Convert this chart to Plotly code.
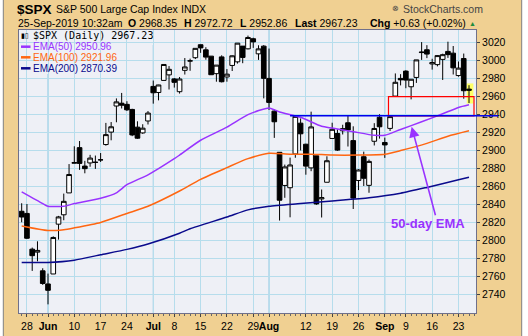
import plotly.graph_objects as go

# ---------------- data ----------------
dates = ['2019-05-24','2019-05-28','2019-05-29','2019-05-30','2019-05-31',
         '2019-06-03','2019-06-04','2019-06-05','2019-06-06','2019-06-07',
         '2019-06-10','2019-06-11','2019-06-12','2019-06-13','2019-06-14',
         '2019-06-17','2019-06-18','2019-06-19','2019-06-20','2019-06-21',
         '2019-06-24','2019-06-25','2019-06-26','2019-06-27','2019-06-28',
         '2019-07-01','2019-07-02','2019-07-03','2019-07-05',
         '2019-07-08','2019-07-09','2019-07-10','2019-07-11','2019-07-12',
         '2019-07-15','2019-07-16','2019-07-17','2019-07-18','2019-07-19',
         '2019-07-22','2019-07-23','2019-07-24','2019-07-25','2019-07-26',
         '2019-07-29','2019-07-30','2019-07-31','2019-08-01','2019-08-02',
         '2019-08-05','2019-08-06','2019-08-07','2019-08-08','2019-08-09',
         '2019-08-12','2019-08-13','2019-08-14','2019-08-15','2019-08-16',
         '2019-08-19','2019-08-20','2019-08-21','2019-08-22','2019-08-23',
         '2019-08-26','2019-08-27','2019-08-28','2019-08-29','2019-08-30',
         '2019-09-03','2019-09-04','2019-09-05','2019-09-06',
         '2019-09-09','2019-09-10','2019-09-11','2019-09-12','2019-09-13',
         '2019-09-16','2019-09-17','2019-09-18','2019-09-19','2019-09-20',
         '2019-09-23','2019-09-24','2019-09-25']

opens = [2832.41,2830.03,2790.25,2786.94,2766.15,
         2751.53,2762.64,2818.09,2828.51,2852.87,
         2885.83,2903.27,2882.73,2886.24,2886.82,
         2889.75,2906.71,2920.55,2949.60,2952.71,
         2951.42,2945.78,2926.07,2919.66,2932.94,
         2971.41,2964.66,2978.08,2984.25,
         2979.77,2965.52,2989.30,2999.62,3003.36,
         3017.80,3012.13,3005.10,2985.60,3004.26,
         2981.93,2994.74,2998.77,3016.26,3013.25,
         3024.47,3007.66,3016.22,2980.32,2943.90,
         2898.07,2861.18,2858.65,2896.21,2930.51,
         2907.07,2880.72,2894.15,2846.20,2864.74,
         2913.48,2919.01,2922.04,2930.94,2911.07,
         2866.70,2893.14,2861.28,2910.37,2937.09,
         2909.01,2924.67,2960.60,2980.33,
         2988.43,2971.01,2981.41,3009.08,3012.21,
         2996.41,2995.67,3001.50,3010.36,3008.42,
         2983.50,3002.43,2968.35]
highs = [2841.36,2840.51,2792.03,2799.00,2768.98,
         2763.07,2804.49,2827.28,2852.10,2884.97,
         2904.77,2910.61,2888.57,2895.24,2894.45,
         2897.27,2930.79,2931.74,2958.06,2964.15,
         2954.92,2946.52,2932.59,2929.30,2943.98,
         2977.93,2973.21,2995.84,2994.03,
         2980.76,2981.90,3002.98,3002.33,3013.92,
         3017.80,3015.02,3005.26,2995.11,3006.02,
         2990.71,3005.90,3019.59,3016.31,3027.98,
         3025.61,3017.19,3017.40,3013.59,2945.50,
         2898.07,2884.40,2892.17,2938.72,2935.75,
         2907.58,2943.31,2894.15,2856.67,2893.63,
         2931.00,2923.63,2928.73,2939.08,2927.01,
         2879.27,2898.79,2890.03,2930.50,2940.43,
         2914.39,2938.84,2985.86,2985.03,
         2989.43,2979.39,3000.93,3020.74,3017.33,
         3002.19,3006.21,3007.83,3021.19,3016.37,
         2999.15,3007.98,2972.72]
lows = [2820.19,2801.58,2766.06,2776.74,2750.52,
        2728.81,2762.64,2800.92,2822.45,2852.87,
        2885.51,2878.53,2874.68,2881.99,2879.62,
        2887.30,2905.44,2911.43,2931.50,2946.87,
        2944.05,2916.01,2912.99,2918.57,2929.05,
        2952.22,2955.92,2977.96,2967.97,
        2970.09,2963.44,2984.62,2988.80,3001.87,
        3008.77,3001.15,2984.25,2976.65,2975.86,
        2976.65,2988.56,2996.82,2997.24,3012.59,
        3014.30,3000.94,2958.08,2945.23,2914.11,
        2822.12,2847.42,2825.71,2891.99,2900.15,
        2873.14,2877.05,2839.64,2825.51,2864.74,
        2913.48,2899.60,2917.91,2904.51,2834.97,
        2856.00,2860.59,2853.05,2905.67,2913.32,
        2891.85,2921.86,2960.60,2972.51,
        2969.39,2957.01,2975.31,3000.92,3002.90,
        2990.10,2993.73,2978.57,3003.16,2984.68,
        2982.23,2957.73,2952.86]
closes = [2826.06,2802.39,2783.02,2788.86,2752.06,
          2744.45,2803.27,2826.15,2843.49,2873.34,
          2886.73,2885.72,2879.84,2891.64,2886.98,
          2889.67,2917.75,2926.46,2954.18,2950.46,
          2945.35,2917.38,2913.78,2924.92,2941.76,
          2964.33,2973.01,2995.82,2990.41,
          2975.95,2979.63,2993.07,2999.91,3013.77,
          3014.30,3004.04,2984.42,2995.11,2976.61,
          2985.03,3005.47,3019.56,3003.67,3025.86,
          3020.97,3013.18,2980.38,2953.56,2932.05,
          2844.74,2881.77,2883.98,2938.09,2918.65,
          2882.70,2926.32,2840.60,2847.60,2888.68,
          2923.65,2900.51,2924.43,2922.95,2847.11,
          2878.38,2869.16,2887.94,2924.58,2926.46,
          2906.27,2937.78,2976.00,2978.71,
          2978.43,2979.39,3000.93,3009.57,3007.39,
          2997.96,3005.70,3006.73,3006.79,2992.07,
          2991.78,2966.60,2967.23]

# EMA overlays (date, value)
ema50_dates = ['2019-05-24','2019-05-31','2019-06-03','2019-06-06','2019-06-10','2019-06-17',
               '2019-06-20','2019-06-24','2019-06-28','2019-07-08','2019-07-09','2019-07-15',
               '2019-07-22','2019-07-26','2019-08-01','2019-08-05','2019-08-09','2019-08-15',
               '2019-08-19','2019-08-23','2019-08-29','2019-09-03','2019-09-06','2019-09-12',
               '2019-09-18','2019-09-23','2019-09-25']
ema50_vals = [2854,2841,2838,2838,2841,2847,
              2853,2862,2873,2891,2895,2911.5,
              2926,2940,2947.5,2943,2937,2927,
              2925,2921,2917,2917,2923.5,2932,
              2941,2948,2950.96]
ema100_dates = ['2019-05-24','2019-06-03','2019-06-06','2019-06-10','2019-06-17','2019-06-24',
                '2019-06-28','2019-07-09','2019-07-15','2019-07-22','2019-07-26','2019-08-01',
                '2019-08-07','2019-08-13','2019-08-19','2019-08-26','2019-09-03','2019-09-06',
                '2019-09-13','2019-09-19','2019-09-25']
ema100_vals = [2816,2811,2812,2814,2820,2830,
               2838,2855,2868,2881,2891,2897,
               2896,2896,2895,2895,2896,2900,
               2908,2916,2921.96]
ema200_dates = ['2019-05-24','2019-06-03','2019-06-10','2019-06-17','2019-06-24','2019-06-28',
                '2019-07-09','2019-07-11','2019-07-22','2019-07-26','2019-08-01','2019-08-09',
                '2019-08-19','2019-08-28','2019-09-06','2019-09-13','2019-09-23','2019-09-25']
ema200_vals = [2775.5,2775.5,2778,2784,2790,2796,
               2808,2813,2826,2834,2838,2841,
               2844,2847.5,2852.5,2859,2867.5,2870.39]

tick_dates = ['2019-05-28','2019-06-03','2019-06-10','2019-06-17','2019-06-24','2019-07-01',
              '2019-07-08','2019-07-15','2019-07-22','2019-07-29','2019-08-01','2019-08-12',
              '2019-08-19','2019-08-26','2019-09-03','2019-09-09','2019-09-16','2019-09-23']
tick_text = ['28','<b>Jun</b>','10','17','24','<b>Jul</b>','8','15','22','29','<b>Aug</b>',
             '12','19','26','<b>Sep</b>','9','16','23']
month_dates = ['2019-06-03','2019-07-01','2019-08-01','2019-09-03']
y_ticks = [2740,2760,2780,2800,2820,2840,2860,2880,2900,2920,2940,2960,2980,3000,3020]

# ---------------- layout geometry ----------------
W, H = 528, 336
ML, MR, MT, MB = 19, 52, 30, 23
PW, PH = W - ML - MR, H - MT - MB

def PX(px):
    return (px - ML) / PW

def PY(py):
    return 1 - (py - MT) / PH

TAN = '#F0D092'
PLOTBG = '#EEF0F6'
GRID = '#B6DDEC'
MONTHGRID = '#8CC6E2'
PURPLE = '#9933FF'
ORANGE = '#FF6611'
NAVY = '#0A0A8C'
FONT = 'Arial, Liberation Sans, sans-serif'

idx = {d: i for i, d in enumerate(dates)}
xs = list(range(len(dates)))

fig = go.Figure()
fig.add_trace(go.Candlestick(
    x=xs, open=opens, high=highs, low=lows, close=closes,
    increasing=dict(line=dict(color='black', width=1), fillcolor='#FFFFFF'),
    decreasing=dict(line=dict(color='black', width=1), fillcolor='black'),
    whiskerwidth=0, hoverinfo='skip', showlegend=False))

for dl, vl, col in [(ema200_dates, ema200_vals, NAVY),
                    (ema100_dates, ema100_vals, ORANGE),
                    (ema50_dates, ema50_vals, PURPLE)]:
    fig.add_trace(go.Scatter(x=[idx[d] for d in dl], y=vl, mode='lines',
                             line=dict(color=col, width=1.5, shape='spline', smoothing=0.6),
                             hoverinfo='skip', showlegend=False))

shapes = []
# darker month grid lines
for d in month_dates:
    shapes.append(dict(type='line', xref='x', yref='paper', x0=idx[d], x1=idx[d], y0=0, y1=1,
                       line=dict(color=MONTHGRID, width=1), layer='between'))
# legend backing boxes
shapes.append(dict(type='rect', xref='paper', yref='paper', x0=PX(19.5), x1=PX(153), y0=PY(30.5), y1=PY(45),
                   fillcolor=PLOTBG, line=dict(width=0), layer='between'))
shapes.append(dict(type='rect', xref='paper', yref='paper', x0=PX(19.5), x1=PX(113), y0=PY(45), y1=PY(74),
                   fillcolor=PLOTBG, line=dict(width=0), layer='between'))
# yellow highlight on last bar
last = len(dates) - 1
shapes.append(dict(type='rect', xref='x', yref='y', x0=last - 0.43, x1=last + 0.83,
                   y0=lows[last] - 0.5, y1=highs[last] + 2,
                   fillcolor='#FFFF66', line=dict(width=0), layer='below'))
# red box
shapes.append(dict(type='rect', xref='x', yref='y', x0=69.7, x1=85.95,
                   y0=highs[idx['2019-08-08']], y1=2960,
                   line=dict(color='#FF0000', width=1.2), fillcolor='rgba(0,0,0,0)', layer='above'))
# blue resistance line (+ extension over the axis)
lvl = highs[idx['2019-08-08']]
shapes.append(dict(type='line', xref='x', yref='y', x0=idx['2019-08-07'], x1=86.4, y0=lvl, y1=lvl,
                   line=dict(color='#0000EE', width=1.5), layer='above'))
shapes.append(dict(type='line', xref='paper', yref='y', x0=1.0, x1=PX(498), y0=lvl, y1=lvl,
                   line=dict(color='#0000EE', width=1.5), layer='above'))
# legend dashes
for py, col in [(46.7, PURPLE), (57.3, ORANGE), (68.3, NAVY)]:
    shapes.append(dict(type='line', xref='paper', yref='paper', x0=PX(21), x1=PX(30.5), y0=PY(py), y1=PY(py),
                       line=dict(color=col, width=2.5), layer='above'))
# outer frame: white edges
shapes.append(dict(type='rect', xref='paper', yref='paper', x0=PX(-2), x1=PX(3.3), y0=PY(-5), y1=PY(345),
                   fillcolor='white', line=dict(width=0)))
shapes.append(dict(type='rect', xref='paper', yref='paper', x0=PX(521.7), x1=PX(535), y0=PY(-5), y1=PY(345),
                   fillcolor='white', line=dict(width=0)))
for px in (3.3, 521.7):
    shapes.append(dict(type='line', xref='paper', yref='paper', x0=PX(px), x1=PX(px), y0=PY(-5), y1=PY(345),
                       line=dict(color='#808080', width=1)))

ann = []
def txt(px, py, text, size=10.5, color='black', family=FONT, xanchor='left', bg=None):
    d = dict(xref='paper', yref='paper', x=PX(px), y=PY(py), text=text, showarrow=False,
             xanchor=xanchor, yanchor='middle', font=dict(size=size, color=color, family=family),
             borderpad=0)
    if bg:
        d['bgcolor'] = bg
    ann.append(d)

# header line 1
txt(16, 9.5, '<b>$SPX</b>', size=13.5)
txt(55, 9.5, 'S&P 500 Large Cap Index', size=10.5)
txt(180, 9.5, 'INDX', size=10.5)
txt(391, 9.0, '⊗', size=8, color='#444444')
txt(402, 9.0, 'StockCharts.com', size=10.5, color='#444444')
# header line 2
txt(17, 23.3, '25-Sep-2019 10:32am', size=10.5)
txt(127, 23.3, '<b>O</b> 2968.35', size=10.5)
txt(183, 23.3, '<b>H</b> 2972.72', size=10.5)
txt(238.5, 23.3, '<b>L</b> 2952.86', size=10.5)
txt(294, 23.3, '<b>Last</b> 2967.23', size=10.5)
txt(368.5, 23.3, '<b>Chg</b> +0.63 (+0.02%)', size=10.5)
txt(468, 23.0, '▲', size=7, color='#1E8C3C')
# in-chart legend
txt(20, 35.7, '▮▯', size=7, family='DejaVu Sans')
txt(32, 35.7, '$SPX (Daily) 2967.23', size=10, family='DejaVu Sans Mono, monospace')
txt(32, 46.7, 'EMA(50) 2950.96', size=10, color=PURPLE)
txt(32, 57.3, 'EMA(100) 2921.96', size=10, color=ORANGE)
txt(32, 68.3, 'EMA(200) 2870.39', size=10, color=NAVY)

# arrow + label
ann.append(dict(xref='x', yref='y', axref='x', ayref='y', x=74.1, y=2926.5, ax=78.7, ay=2826.4,
                text='', showarrow=True, arrowhead=2, arrowsize=1.3, arrowwidth=1.6,
                arrowcolor=PURPLE, standoff=0, startstandoff=0))
ann.append(dict(xref='x', yref='y', x=77.2, y=2819, text='<b>50-day EMA</b>', showarrow=False,
                xanchor='center', yanchor='middle', font=dict(size=13, color=PURPLE, family=FONT)))

fig.update_layout(
    width=W, height=H,
    margin=dict(l=ML, r=MR, t=MT, b=MB, pad=0, autoexpand=False),
    paper_bgcolor=TAN, plot_bgcolor=PLOTBG,
    boxgap=0.12, boxgroupgap=0,
    shapes=shapes, annotations=ann,
    font=dict(family=FONT, size=10.5, color='black'),
    showlegend=False,
    xaxis=dict(range=[-0.51, 86.33], tickmode='array', automargin=False, tickangle=0,
               tickvals=[idx[d] for d in tick_dates], ticktext=tick_text,
               showgrid=True, gridcolor=GRID, gridwidth=1, zeroline=False,
               ticks='outside', ticklen=3, tickcolor='#444444',
               minor=dict(tickmode='linear', tick0=0, dtick=1, ticks='outside', ticklen=2,
                          tickcolor='#666666', showgrid=False),
               showline=True, mirror=True, linecolor='#70708A', linewidth=1,
               rangeslider=dict(visible=False), tickfont=dict(size=10.5)),
    yaxis=dict(range=[2719.2, 3034.2], side='right', tickmode='array', tickvals=y_ticks,
               automargin=False,
               showgrid=True, gridcolor=GRID, gridwidth=1, zeroline=False,
               ticks='outside', ticklen=3, tickcolor='#444444',
               showline=True, mirror=True, linecolor='#70708A', linewidth=1,
               tickfont=dict(size=10.5)),
)

fig.write_html('out.html')
